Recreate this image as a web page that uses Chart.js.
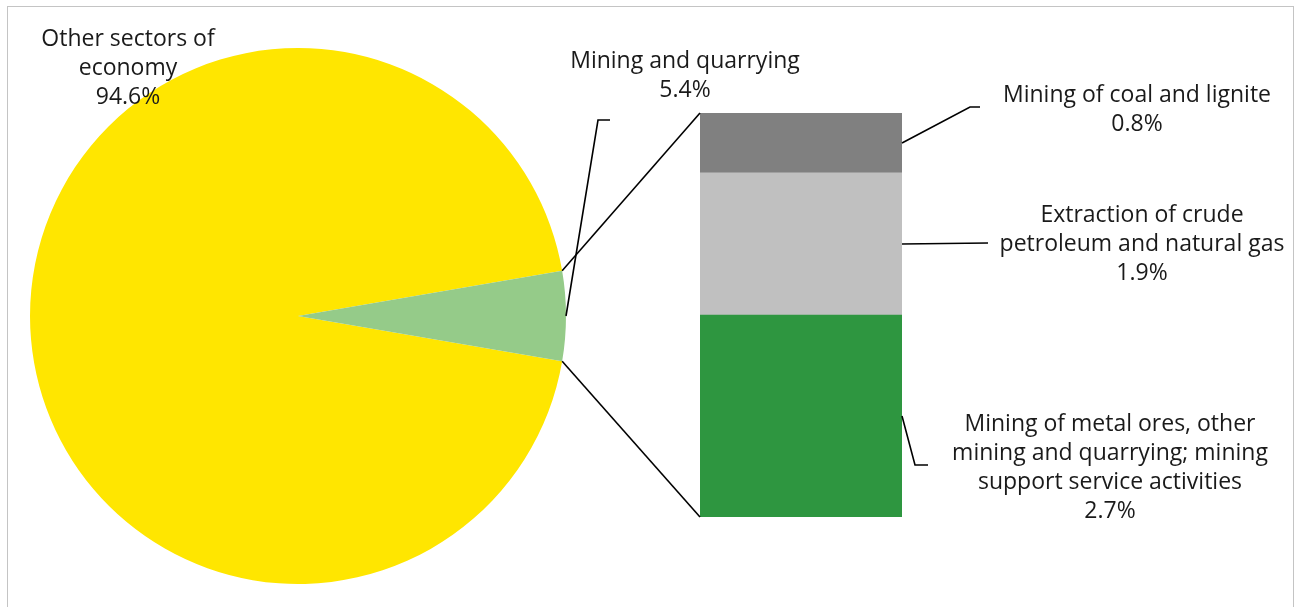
<!DOCTYPE html>
<html>
<head>
<meta charset="utf-8">
<script src="https://cdn.jsdelivr.net/npm/chart.js@4.4.1/dist/chart.umd.min.js"></script>
<style>
  html, body { margin: 0; padding: 0; background: #fff; }
  #wrap { position: relative; width: 1297px; height: 607px; overflow: hidden; }
  #frame { position: absolute; left: 7px; top: 6px; width: 1287px; height: 700px; border: 1px solid #c4c4c4; box-sizing: border-box; }
  canvas { position: absolute; left: 0; top: 0; }
</style>
</head>
<body>
<div id="wrap">
  <div id="frame"></div>
  <canvas id="pie" width="1297" height="607"></canvas>
  <canvas id="bar" width="1297" height="607"></canvas>
</div>
<script>
// pie: whole economy
const pieLabels = ['Other sectors of economy', 'Mining and quarrying'];
const pieValues = [94.6, 5.4];
const pieColors = ['#ffe600', '#95cb89'];

// bar: breakdown of mining and quarrying (bottom to top)
const barLabels = [
  'Mining of metal ores, other mining and quarrying; mining support service activities',
  'Extraction of crude petroleum and natural gas',
  'Mining of coal and lignite'
];
const barValues = [2.7, 1.9, 0.8];
const barColors = ['#2e9640', '#c0c0c0', '#808080'];

// wrapped label lines as printed in the picture
const pieLabelLines = [['Other sectors of', 'economy'], ['Mining and quarrying']];
const barLabelLines = [
  ['Mining of metal ores, other', 'mining and quarrying; mining', 'support service activities'],
  ['Extraction of crude', 'petroleum and natural gas'],
  ['Mining of coal and lignite']
];

const FONT = '23px "Open Sans", "Noto Sans", sans-serif';
const TEXT = '#1a1a1a';
const LINE_H = 29;

const share = pieValues[1] / pieValues.reduce((a, b) => a + b, 0);

const pieChart = new Chart(document.getElementById('pie'), {
  type: 'pie',
  data: {
    labels: pieLabels,
    datasets: [{ data: pieValues, backgroundColor: pieColors, borderWidth: 0 }]
  },
  options: {
    responsive: false,
    animation: false,
    rotation: 90 + share * 180,
    layout: { padding: { left: 30, top: 48, right: 731, bottom: 23 } },
    plugins: { legend: { display: false }, tooltip: { enabled: false } }
  }
});

function drawLines(ctx, lines, cx, cy) {
  lines.forEach((t, i) => ctx.fillText(t, cx, cy + i * LINE_H));
}

function path(ctx, pts) {
  ctx.beginPath();
  ctx.moveTo(pts[0][0], pts[0][1]);
  for (let i = 1; i < pts.length; i++) ctx.lineTo(pts[i][0], pts[i][1]);
  ctx.stroke();
}

const annotations = {
  id: 'annotations',
  afterDraw(chart) {
    const ctx = chart.ctx;
    const arcs = pieChart.getDatasetMeta(0).data;
    const g = arcs[1].getProps(['x', 'y', 'startAngle', 'endAngle', 'outerRadius'], true);
    const pt = a => [g.x + g.outerRadius * Math.cos(a), g.y + g.outerRadius * Math.sin(a)];
    const bars = barValues.map((_, i) => chart.getDatasetMeta(i).data[0].getProps(['x', 'y', 'base', 'width'], true));
    const left = bars[0].x - bars[0].width / 2;
    const right = bars[0].x + bars[0].width / 2;

    ctx.save();
    ctx.strokeStyle = '#000';
    ctx.lineWidth = 1.6;
    // connectors pie -> bar
    path(ctx, [pt(g.startAngle), [left, bars[2].y]]);
    path(ctx, [pt(g.endAngle), [left, bars[0].base]]);
    // leader for mining and quarrying
    const m = pt((g.startAngle + g.endAngle) / 2);
    path(ctx, [m, [m[0] + 32, m[1] - 196], [m[0] + 44, m[1] - 196]]);
    // leaders for bar segments
    const mid = b => (b.y + b.base) / 2;
    path(ctx, [[right, mid(bars[2])], [970, 107], [980, 107]]);
    path(ctx, [[right, mid(bars[1])], [988, 243]]);
    path(ctx, [[right, mid(bars[0])], [915, 465], [928, 465]]);

    ctx.fillStyle = TEXT;
    ctx.font = FONT;
    ctx.textAlign = 'center';
    ctx.textBaseline = 'middle';
    drawLines(ctx, pieLabelLines[0].concat(pieValues[0].toFixed(1) + '%'), 128, 39);
    drawLines(ctx, pieLabelLines[1].concat(pieValues[1].toFixed(1) + '%'), 685, 61);
    drawLines(ctx, barLabelLines[2].concat(barValues[2].toFixed(1) + '%'), 1137, 95);
    drawLines(ctx, barLabelLines[1].concat(barValues[1].toFixed(1) + '%'), 1142, 215);
    drawLines(ctx, barLabelLines[0].concat(barValues[0].toFixed(1) + '%'), 1110, 424);
    ctx.restore();
  }
};

new Chart(document.getElementById('bar'), {
  type: 'bar',
  data: {
    labels: ['Mining and quarrying'],
    datasets: barValues.map((v, i) => ({
      label: barLabels[i],
      data: [v],
      backgroundColor: barColors[i],
      borderWidth: 0,
      barPercentage: 1,
      categoryPercentage: 1
    }))
  },
  options: {
    responsive: false,
    animation: false,
    layout: { padding: { left: 700, top: 113, right: 395, bottom: 90 } },
    scales: {
      x: { stacked: true, display: false },
      y: { stacked: true, display: false, min: 0, max: pieValues[1] }
    },
    plugins: { legend: { display: false }, tooltip: { enabled: false } }
  },
  plugins: [annotations]
});
</script>
</body>
</html>
